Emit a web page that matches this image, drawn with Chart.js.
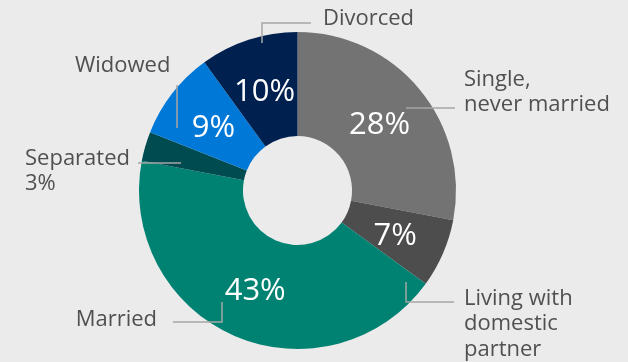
<!DOCTYPE html>
<html>
<head>
<meta charset="utf-8">
<script src="https://cdn.jsdelivr.net/npm/chart.js@4.4.1/dist/chart.umd.min.js"></script>
<style>
  html, body { margin: 0; padding: 0; background: #ebebeb; }
  #wrap { width: 628px; height: 362px; position: relative; }
</style>
</head>
<body>
<div id="wrap"><canvas id="chart" width="628" height="362"></canvas></div>
<script>
// Marital status shares (percent), clockwise from 12 o'clock
const categories = ['Single, never married', 'Living with domestic partner', 'Married', 'Separated', 'Widowed', 'Divorced'];
const shares = [28, 7, 43, 3, 9, 10];
const sliceColors = ['#737373', '#4d4d4d', '#008272', '#004b50', '#0078d7', '#002050'];
// Text lines of each outside label
const outsideLabels = [
  ['Single,', 'never married'],
  ['Living with', 'domestic', 'partner'],
  ['Married'],
  ['Separated', '3%'],
  ['Widowed'],
  ['Divorced']
];
// Which slices show their value inside the ring
const showInside = [true, true, true, false, true, true];

const FONT = '"Open Sans", "Noto Sans", sans-serif';

// Callout geometry, in pixels relative to the ring centre:
// leader polyline, text anchor, alignment
const calloutLayout = [
  { path: [[108.5, -82.5], [157.5, -82.5]], text: [166.5, -111], align: 'left' },
  { path: [[108.5, 91.5], [108.5, 111.5], [156.5, 111.5]], text: [166.5, 108], align: 'left' },
  { path: [[-75.5, 111.5], [-75.5, 131.5], [-124.5, 131.5]], text: [-140.5, 129], align: 'right' },
  { path: [[-116.5, -27.5], [-159.5, -27.5]], text: [-272.5, -32], align: 'left' },
  { path: [[-120.5, -62.5], [-120.5, -105.5]], text: [-222.5, -124.5], align: 'left' },
  { path: [[-35.5, -147.5], [-35.5, -167.5], [13.5, -167.5]], text: [25.5, -172], align: 'left' }
];

const labelPlugin = {
  id: 'ringLabels',
  afterDatasetsDraw(chart) {
    const ctx = chart.ctx;
    const meta = chart.getDatasetMeta(0);
    ctx.save();
    meta.data.forEach((arc, i) => {
      const cx = arc.x, cy = arc.y;
      // value inside the ring
      if (showInside[i]) {
        const p = arc.tooltipPosition();
        ctx.fillStyle = '#ffffff';
        ctx.font = '31px ' + FONT;
        ctx.textAlign = 'center';
        ctx.textBaseline = 'middle';
        ctx.fillText(shares[i] + '%', p.x, p.y + 3);
      }
      // leader line
      const lay = calloutLayout[i];
      ctx.strokeStyle = '#a6a6a6';
      ctx.lineWidth = 1.5;
      ctx.beginPath();
      lay.path.forEach((pt, k) => {
        const x = cx + pt[0], y = cy + pt[1];
        if (k === 0) ctx.moveTo(x, y); else ctx.lineTo(x, y);
      });
      ctx.stroke();
      // outside text
      ctx.fillStyle = '#505050';
      ctx.font = '22px ' + FONT;
      ctx.textAlign = lay.align;
      ctx.textBaseline = 'middle';
      outsideLabels[i].forEach((line, k) => {
        ctx.fillText(line, cx + lay.text[0], cy + lay.text[1] + k * 25.5);
      });
    });
    ctx.restore();
  }
};

new Chart(document.getElementById('chart'), {
  type: 'doughnut',
  data: {
    labels: categories,
    datasets: [{
      data: shares,
      backgroundColor: sliceColors,
      borderWidth: 0
    }]
  },
  options: {
    responsive: false,
    animation: false,
    cutout: '34.4%',
    layout: { padding: { left: 139, right: 172, top: 32, bottom: 13 } },
    plugins: {
      legend: { display: false },
      tooltip: { enabled: false }
    }
  },
  plugins: [labelPlugin]
});
</script>
</body>
</html>
